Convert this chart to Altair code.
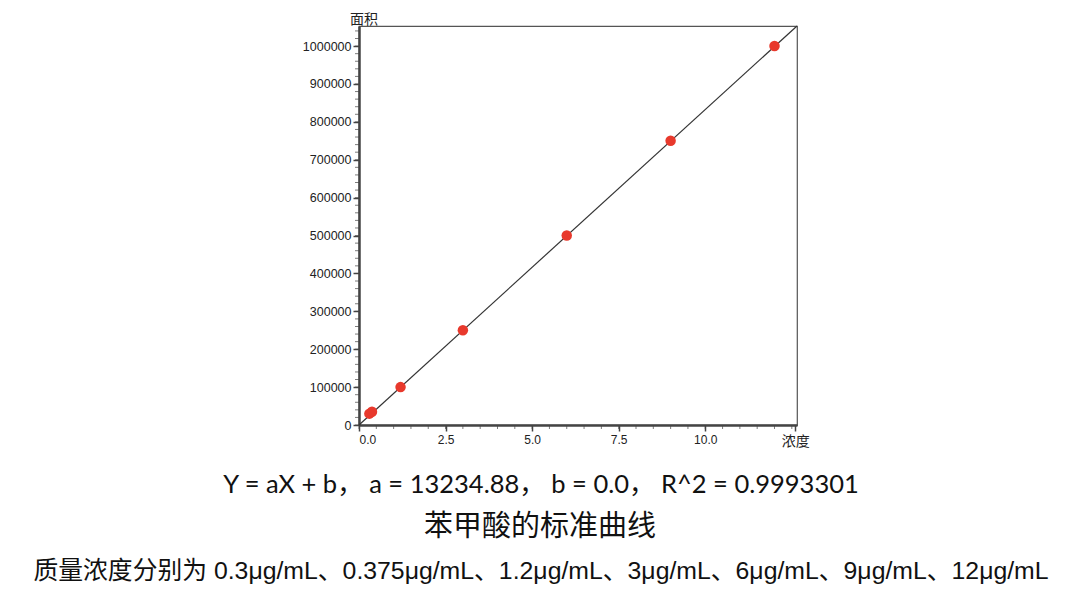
import altair as alt
import pandas as pd

conc = [0.3, 0.375, 1.2, 3, 6, 9, 12]
area = [30000, 35000, 100000, 250000, 500000, 750000, 1000000]
fit_x = [0, 12.65]
fit_y = [0, 1053000]
y_ticks = [0, 100000, 200000, 300000, 400000, 500000, 600000, 700000, 800000, 900000, 1000000]
x_ticks = [0, 2.5, 5, 7.5, 10, 12.6]
x_minor = [0.5 * i for i in range(26)]
y_minor = [20000 * i for i in range(53)]

equation = "Y = aX + b， a = 13234.88， b = 0.0， R^2 = 0.9993301"
title = "苯甲酸的标准曲线"
note = "质量浓度分别为 0.3μg/mL、0.375μg/mL、1.2μg/mL、3μg/mL、6μg/mL、9μg/mL、12μg/mL"

W, H = 438, 399
xs = alt.Scale(domain=[0, 12.65], nice=False, zero=False)
ys = alt.Scale(domain=[0, 1053000], nice=False)

pts = pd.DataFrame({"x": conc, "y": area})
fit = pd.DataFrame({"x": fit_x, "y": fit_y})

x_axis = alt.Axis(values=x_ticks, labelExpr="datum.value > 12 ? '浓度' : format(datum.value, '.1f')",
                  title=None, grid=False, domainWidth=2.5, domainColor="#444", tickColor="#444",
                  tickSize=6, tickWidth=1.5,
                  labelFontSize={"condition": {"test": "datum.value > 12", "value": 14}, "value": 12},
                  labelColor="#222", labelFont="Liberation Sans, Noto Sans CJK SC", labelPadding=3)
y_axis = alt.Axis(values=y_ticks, format="d", title=None, grid=False, domainWidth=2.5, domainColor="#444",
                  tickColor="#444", tickSize=6, tickWidth=1.5, labelFontSize=12.5, labelColor="#222",
                  labelFont="Liberation Sans", labelPadding=2)

X = alt.X("x:Q", scale=xs, axis=x_axis)
Y = alt.Y("y:Q", scale=ys, axis=y_axis)

line = alt.Chart(fit).mark_line(color="#333", strokeWidth=1.2).encode(x=X, y=Y)
points = alt.Chart(pts).mark_circle(color="#e8392c", size=110, opacity=1).encode(x=X, y=Y)

xminor = alt.Chart(pd.DataFrame({"x": x_minor})).mark_tick(color="#444", size=4, thickness=1, orient="vertical").encode(
    x=X, y=alt.value(H + 2))
yminor = alt.Chart(pd.DataFrame({"y": y_minor})).mark_tick(color="#444", size=4, thickness=1, orient="horizontal").encode(
    y=Y, x=alt.value(-2))

ylab = alt.Chart(pd.DataFrame({"t": ["面积"]})).mark_text(fontSize=14, font="Noto Sans CJK SC", color="#222",
                                                           align="left", baseline="bottom").encode(
    text="t:N", x=alt.value(-9), y=alt.value(1))

def txt(s, x, y, size, font):
    return alt.Chart(pd.DataFrame({"t": [s]})).mark_text(fontSize=size, font=font, color="#111",
                                                        align="center", baseline="middle").encode(
        text="t:N", x=alt.value(x), y=alt.value(y))

t1 = txt(equation, 182, 459, 25.5, "Lato, Noto Sans CJK SC")
t2 = txt(title, 181, 501, 29, "Noto Sans CJK SC")
t3 = txt(note, 182, 546, 24.8, "Liberation Sans, Noto Sans CJK SC")

chart = alt.layer(line, points, xminor, yminor, ylab, t1, t2, t3).properties(
    width=W, height=H,
    padding={"left": 351, "top": 18, "right": 275, "bottom": 163},
    autosize=alt.AutoSizeParams(type="none"),
).configure_view(stroke="#555", strokeWidth=1.2)

chart.save("out.html", embed_options={"renderer": "svg", "actions": False})
